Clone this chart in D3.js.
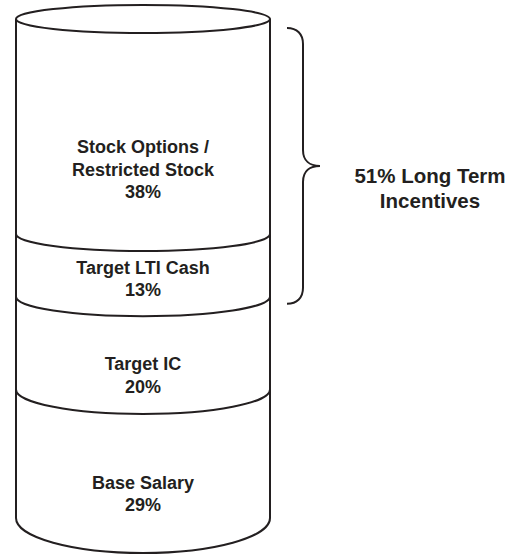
<!DOCTYPE html>
<html lang="en">
  <head>
    <meta charset="UTF-8" />
    <title>Pay mix</title>
    <style>
      body {
        margin: 0;
        background: #fff;
      }
      .outline {
        fill: none;
        stroke: #231f20;
        stroke-width: 2;
      }
      .label {
        font-family: "Liberation Sans", Arial, sans-serif;
        font-weight: bold;
        fill: #231f20;
        text-anchor: middle;
      }
    </style>
  </head>
  <body>
    <script src="https://d3js.org/d3.v7.min.js"></script>
    <script>
      // segments from top of cylinder to bottom
      const categories = [
        ["Stock Options /", "Restricted Stock"],
        ["Target LTI Cash"],
        ["Target IC"],
        ["Base Salary"],
      ];
      const values = [38, 13, 20, 29];
      // first two segments are grouped by the brace
      const braceCount = 2;
      const braceText = ["% Long Term", "Incentives"];

      const width = 513;
      const height = 557;
      const left = 16;
      const right = 270;
      const cx = (left + right) / 2;
      const rx = (right - left) / 2;

      const svg = d3
        .select("body")
        .append("svg")
        .attr("width", width)
        .attr("height", height);

      // cumulative share from the top
      const cum = [0];
      values.forEach((v, i) => cum.push(cum[i] + v));

      // drawn with a little perspective: lower rings sit lower and open wider
      const y = d3.scalePow().exponent(0.87).domain([0, 100]).range([19, 518]);
      const ry = d3.scalePow().exponent(2).domain([0, 100]).range([14, 35]);

      const lowerArc = (p) =>
        `M${left},${y(p)} A${rx},${ry(p)} 0 0 0 ${right},${y(p)}`;

      // body: two walls and the bottom curve
      svg
        .append("path")
        .attr("class", "outline")
        .attr(
          "d",
          `M${left},${y(0)} L${left},${y(100)} A${rx},${ry(100)} 0 0 0 ${right},${y(100)} L${right},${y(0)}`
        );

      // top rim
      svg
        .append("ellipse")
        .attr("class", "outline")
        .attr("cx", cx)
        .attr("cy", y(0))
        .attr("rx", rx)
        .attr("ry", ry(0));

      // dividers between segments
      svg
        .append("g")
        .selectAll("path")
        .data(cum.slice(1, -1))
        .join("path")
        .attr("class", "outline")
        .attr("d", (d) => lowerArc(d));

      // segment labels
      const fontSize = 18;
      const lineH = 22.5;
      // hand placement of each label block relative to its segment middle
      const labelNudge = [27, -5, 10, 10];
      const front = (p) => y(p) + ry(p);

      const labels = svg
        .append("g")
        .selectAll("text")
        .data(categories.map((c, i) => ({ lines: [...c, values[i] + "%"], i })))
        .join("text")
        .attr("class", "label")
        .style("font-size", fontSize + "px")
        .attr("transform", (d) => {
          const mid = (front(cum[d.i]) + front(cum[d.i + 1])) / 2 + labelNudge[d.i];
          const first = mid - ((d.lines.length - 1) * lineH) / 2 + fontSize * 0.36;
          return `translate(${cx}, ${first})`;
        });

      labels
        .selectAll("tspan")
        .data((d) => d.lines)
        .join("tspan")
        .attr("x", 0)
        .attr("y", (d, j) => j * lineH)
        .text((d) => d);

      // brace over the long-term segments
      const bTop = y(0) + 9;
      const bBot = y(cum[braceCount]) + 7;
      const bMid = (bTop + bBot) / 2;
      const x0 = 287;
      const x1 = 303;
      const x2 = 320;
      const r = 16;
      svg
        .append("path")
        .attr("class", "outline")
        .attr(
          "d",
          `M${x0},${bTop} C${x0 + 10},${bTop} ${x1},${bTop + 6} ${x1},${bTop + r}` +
            ` L${x1},${bMid - r} C${x1},${bMid - 5} ${x1 + 7},${bMid} ${x2},${bMid}` +
            ` C${x1 + 7},${bMid} ${x1},${bMid + 5} ${x1},${bMid + r}` +
            ` L${x1},${bBot - r} C${x1},${bBot - 6} ${x0 + 10},${bBot} ${x0},${bBot}`
        );

      const longTerm = d3.sum(values.slice(0, braceCount));
      svg
        .append("text")
        .attr("class", "label")
        .style("font-size", "20.5px")
        .attr("transform", `translate(430, ${bMid + 17})`)
        .selectAll("tspan")
        .data([longTerm + braceText[0], braceText[1]])
        .join("tspan")
        .attr("x", 0)
        .attr("y", (d, j) => j * 25.5)
        .text((d) => d);
    </script>
  </body>
</html>
